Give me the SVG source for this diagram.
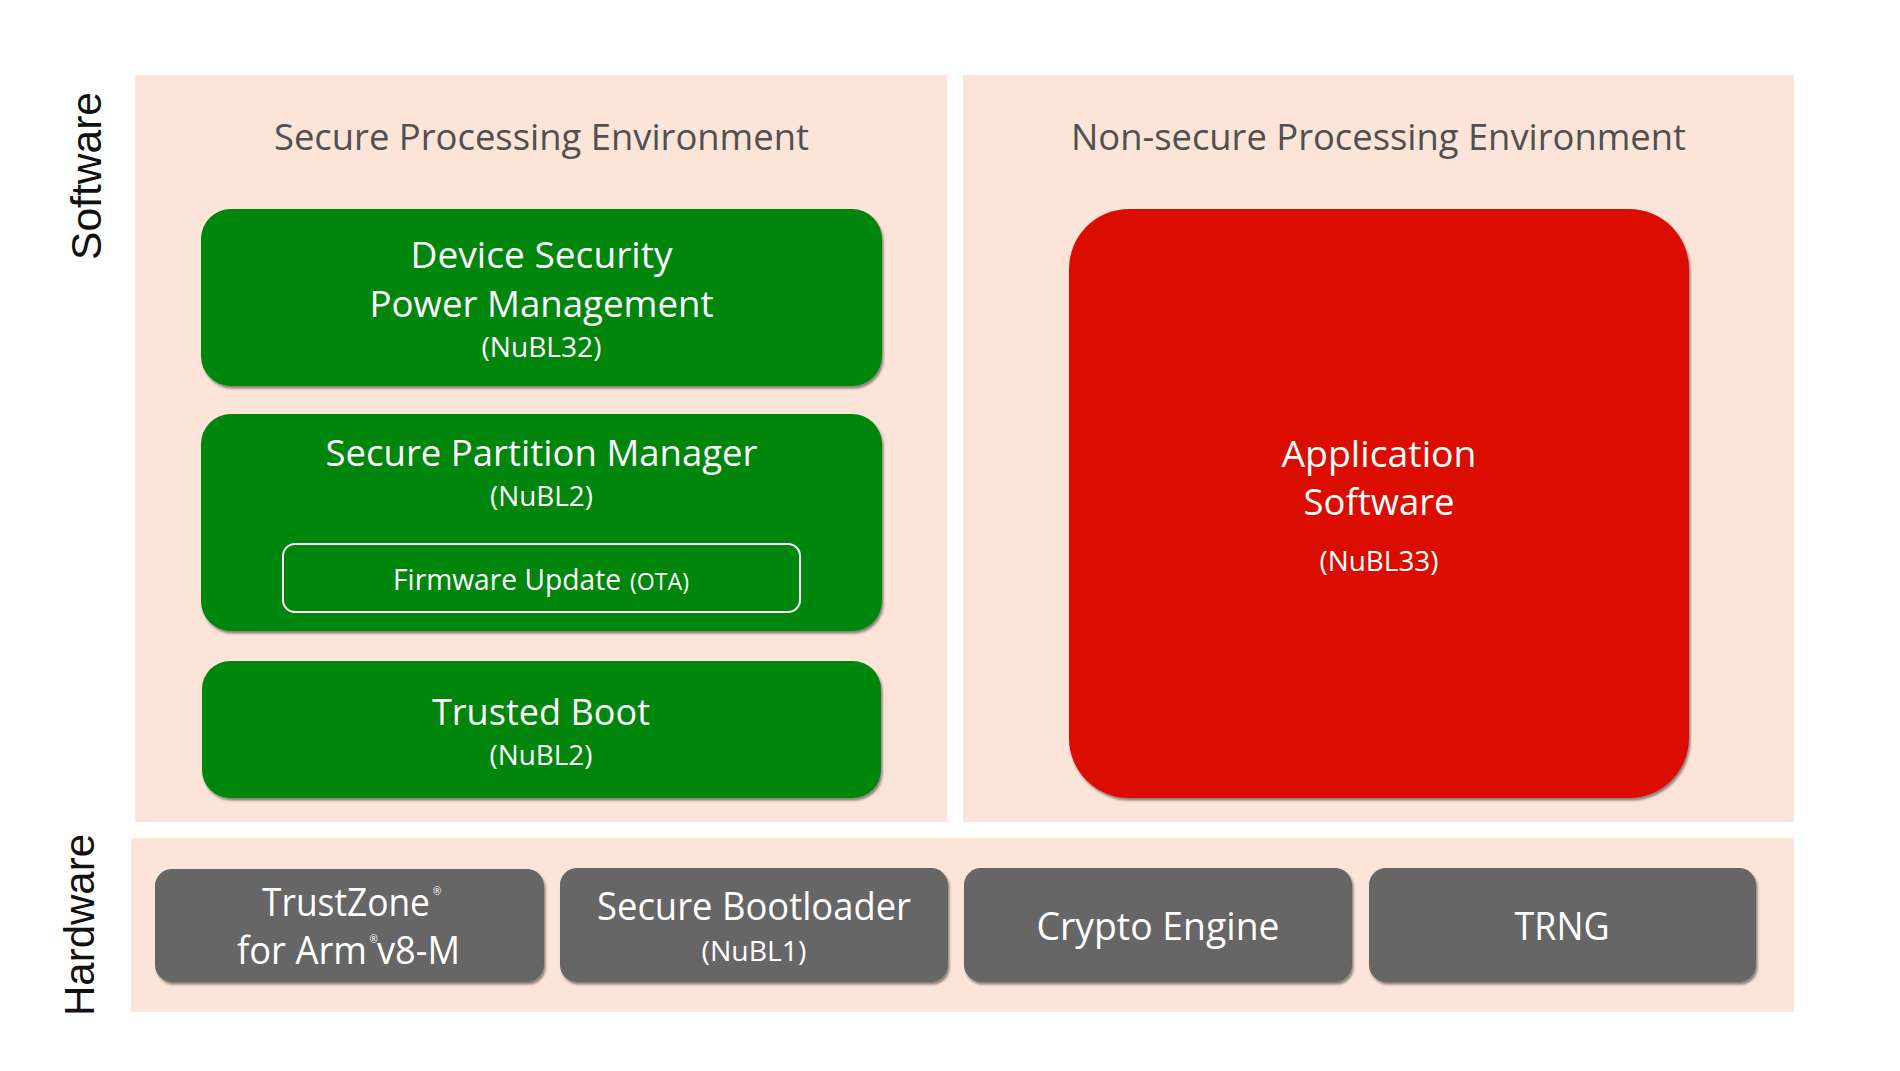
<svg xmlns="http://www.w3.org/2000/svg" width="1900" height="1071" viewBox="0 0 1900 1071">
<defs>
<filter id="sh" x="-5%" y="-5%" width="110%" height="115%">
<feDropShadow dx="1.5" dy="2.5" stdDeviation="1.3" flood-color="#000" flood-opacity="0.45"/>
</filter>
</defs>
<style>
.panel{fill:#FCE4D9;}
.green{fill:#068509;filter:url(#sh);}
.red{fill:#DA0B06;filter:url(#sh);}
.gray{fill:#666666;filter:url(#sh);}
text{font-family:"Open Sans","Noto Sans",sans-serif;}
.w{fill:#FFFFFF;text-anchor:middle;}
.big{font-size:37px;}
.mid{font-size:29px;}
.sm{font-size:27px;}
.title{fill:#505050;font-size:37px;text-anchor:middle;}
.side{font-family:"Liberation Sans",Arial,sans-serif;font-size:42px;fill:#111;text-anchor:middle;}
.reg{font-size:10px;fill:#fff;}
</style>
<rect x="0" y="0" width="1900" height="1071" fill="#FFFFFF"/>

<g id="panels">
<rect class="panel" x="135" y="75" width="812" height="747"/>
<rect class="panel" x="963" y="75" width="831" height="747"/>
<rect class="panel" x="131" y="838" width="1663" height="174"/>
</g>

<g id="side-labels">
<text class="side" transform="translate(101,176) rotate(-90)" textLength="168" lengthAdjust="spacingAndGlyphs">Software</text>
<text class="side" transform="translate(94,925) rotate(-90)" textLength="182" lengthAdjust="spacingAndGlyphs">Hardware</text>
</g>

<g id="titles">
<text class="title" x="541.5" y="150" textLength="535" lengthAdjust="spacingAndGlyphs">Secure Processing Environment</text>
<text class="title" x="1378.5" y="150" textLength="615" lengthAdjust="spacingAndGlyphs">Non-secure Processing Environment</text>
</g>

<g id="device-security">
<rect class="green" x="201" y="209" width="681" height="177" rx="30" ry="30"/>
<text class="w big" x="541.5" y="268" textLength="262" lengthAdjust="spacingAndGlyphs">Device Security</text>
<text class="w big" x="541.5" y="317" textLength="344" lengthAdjust="spacingAndGlyphs">Power Management</text>
<text class="w sm" x="541.5" y="357" textLength="120" lengthAdjust="spacingAndGlyphs">(NuBL32)</text>
</g>

<g id="secure-partition-manager">
<rect class="green" x="201" y="414" width="681" height="217" rx="30" ry="30"/>
<text class="w big" x="541.5" y="466" textLength="432" lengthAdjust="spacingAndGlyphs">Secure Partition Manager</text>
<text class="w sm" x="541.5" y="506" textLength="103" lengthAdjust="spacingAndGlyphs">(NuBL2)</text>
</g>

<g id="firmware-update">
<rect x="283" y="544" width="517" height="68" rx="12" ry="12" fill="none" stroke="#FFFFFF" stroke-width="2"/>
<text y="589.5" fill="#fff"><tspan x="393" font-size="29" textLength="228" lengthAdjust="spacingAndGlyphs">Firmware Update</tspan><tspan x="630" font-size="23" textLength="59" lengthAdjust="spacingAndGlyphs">(OTA)</tspan></text>
</g>

<g id="trusted-boot">
<rect class="green" x="202" y="661" width="679" height="137" rx="28" ry="28"/>
<text class="w big" x="541" y="724.5" textLength="218" lengthAdjust="spacingAndGlyphs">Trusted Boot</text>
<text class="w sm" x="541" y="765" textLength="103" lengthAdjust="spacingAndGlyphs">(NuBL2)</text>
</g>

<g id="application-software">
<rect class="red" x="1069" y="209" width="620" height="589" rx="60" ry="60"/>
<text class="w big" x="1379" y="467" textLength="195" lengthAdjust="spacingAndGlyphs">Application</text>
<text class="w big" x="1379" y="515" textLength="151" lengthAdjust="spacingAndGlyphs">Software</text>
<text class="w sm" x="1379" y="571" textLength="119" lengthAdjust="spacingAndGlyphs">(NuBL33)</text>
</g>

<g id="trustzone">
<rect class="gray" x="155" y="869" width="389" height="113" rx="17" ry="17"/>
<text fill="#fff" font-size="38" transform="translate(262 915.5) scale(0.933 1)" textLength="180" lengthAdjust="spacingAndGlyphs">TrustZone</text>
<text class="reg" x="433" y="895">®</text>
<text fill="#fff" font-size="38" x="237" y="964" textLength="130" lengthAdjust="spacingAndGlyphs">for Arm</text>
<text class="reg" x="369.5" y="943">®</text>
<text fill="#fff" font-size="38" x="377" y="964" textLength="83" lengthAdjust="spacingAndGlyphs">v8-M</text>
</g>

<g id="secure-bootloader">
<rect class="gray" x="560" y="868" width="388" height="114" rx="17" ry="17"/>
<text class="w" x="754" y="920" font-size="38" textLength="314" lengthAdjust="spacingAndGlyphs">Secure Bootloader</text>
<text class="w sm" x="754" y="961" textLength="105" lengthAdjust="spacingAndGlyphs">(NuBL1)</text>
</g>

<g id="crypto-engine">
<rect class="gray" x="964" y="868" width="388" height="114" rx="17" ry="17"/>
<text class="w" x="1158" y="940" font-size="38" textLength="243" lengthAdjust="spacingAndGlyphs">Crypto Engine</text>
</g>

<g id="trng">
<rect class="gray" x="1369" y="868" width="387" height="114" rx="17" ry="17"/>
<text class="w" x="1562" y="940" font-size="38" textLength="95" lengthAdjust="spacingAndGlyphs">TRNG</text>
</g>

<g id="connectors"></g>
</svg>
